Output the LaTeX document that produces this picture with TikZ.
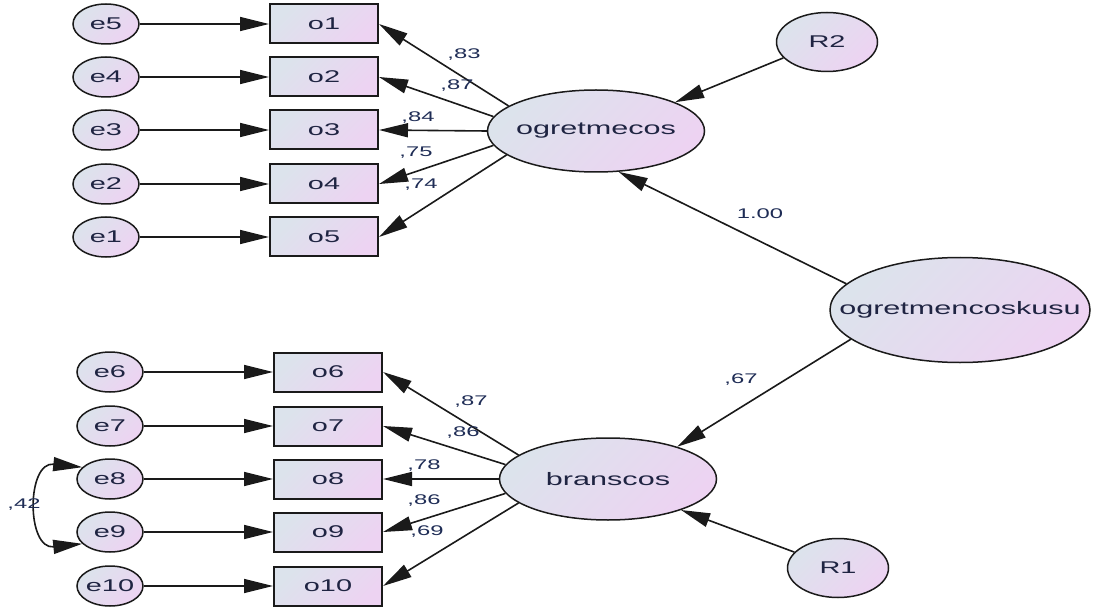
\documentclass[tikz,border=0pt]{standalone}
\usepackage{fontspec}
\setmainfont[FakeStretch=1.7]{Liberation Sans}
\usetikzlibrary{shapes.geometric,arrows.meta}

\definecolor{shadeA}{HTML}{DCE3EC}
\definecolor{shadeB}{HTML}{EDD3F2}
\definecolor{ink}{HTML}{1F2442}
\definecolor{coefink}{HTML}{1E2C55}
\definecolor{edge}{HTML}{1A1A1A}

% text of zero width, so a shape keeps exactly its minimum size
\newcommand{\nlabel}[1]{\makebox[0pt]{#1}}

\tikzset{
  gfill/.style={top color=shadeA, bottom color=shadeB, shading angle=45},
  obsbox/.style={rectangle, draw=edge, line width=2pt, gfill,
    minimum width=108pt, minimum height=39pt, inner sep=0pt,
    font=\fontsize{17}{20}\selectfont, text=ink},
  errc/.style={ellipse, draw=edge, line width=1.5pt, gfill,
    minimum width=66pt, minimum height=40pt, inner sep=0pt,
    font=\fontsize{17}{20}\selectfont, text=ink},
  resid/.style={ellipse, draw=edge, line width=1.5pt, gfill,
    minimum width=101pt, minimum height=59pt, inner sep=0pt,
    font=\fontsize{17}{20}\selectfont, text=ink},
  latent/.style={ellipse, draw=edge, line width=1.5pt, gfill,
    minimum width=217pt, minimum height=82pt, inner sep=0pt,
    font=\fontsize{18}{21}\selectfont, text=ink},
  regpath/.style={draw=edge, line width=1.6pt,
    -{Triangle[length=29pt,width=14pt]}},
  covpath/.style={draw=edge, line width=1.6pt,
    {Triangle[length=29pt,width=14pt]}-{Triangle[length=29pt,width=14pt]}},
  coef/.style={inner sep=0pt, font=\fontsize{14}{16}\selectfont, text=coefink},
}

\begin{document}
\begin{tikzpicture}[x=1pt,y=-1pt]
  \useasboundingbox (0,0) rectangle (1094,612);
  \fill[white] (0,0) rectangle (1094,612);

  % first factor: indicators and their errors
  \foreach \e/\o/\y in {e5/o1/24, e4/o2/77, e3/o3/130, e2/o4/184, e1/o5/237} {
    \node[errc] (\e) at (106,\y) {\nlabel{\e}};
    \node[obsbox] (\o) at (324,\y) {\nlabel{\o}};
    \draw[regpath] (\e) -- (\o);
  }

  % second factor: indicators and their errors
  \foreach \e/\o/\y in {e6/o6/372, e7/o7/426, e8/o8/479, e9/o9/532, e10/o10/586} {
    \node[errc] (\e) at (110,\y) {\nlabel{\e}};
    \node[obsbox] (\o) at (328,\y) {\nlabel{\o}};
    \draw[regpath] (\e) -- (\o);
  }

  % latent variables
  \node[latent] (og) at (596,131) {\nlabel{ogretmecos}};
  \node[latent] (br) at (608,479) {\nlabel{branscos}};
  \node[latent, minimum width=260pt, minimum height=105pt] (oc) at (960,310) {\nlabel{ogretmencoskusu}};
  \node[resid] (R2) at (827,42) {\nlabel{R2}};
  \node[resid] (R1) at (838,568) {\nlabel{R1}};

  % loadings
  \draw[regpath] (og.164) -- (o1.east);
  \draw[regpath] (og.172) -- (o2.east);
  \draw[regpath] (og.180) -- (o3.east);
  \draw[regpath] (og.188) -- (o4.east);
  \draw[regpath] (og.195) -- (o5.east);

  \draw[regpath] (br.165) -- (o6.east);
  \draw[regpath] (br.172) -- (o7.east);
  \draw[regpath] (br.180) -- (o8.east);
  \draw[regpath] (br.188) -- (o9.east);
  \draw[regpath] (br.195) -- (o10.east);

  % structural paths and disturbances
  \draw[regpath] (oc.167.5) -- (og.299);
  \draw[regpath] (oc.195.5) -- (br.25);
  \draw[regpath] (R2.200) -- (og.20.6);
  \draw[regpath] (R1.160) -- (br.337.5);

  % error covariance
  \draw[covpath] (e8.157) .. controls +(-56,-6) and +(-56,6) .. (e9.203);

  % coefficients
  \node[coef] (c1) at (464,55) {,83};
  \node[coef] (c2) at (457,86) {,87};
  \node[coef] (c3) at (418,118) {,84};
  \node[coef] (c4) at (416,153) {,75};
  \node[coef] (c5) at (421,185) {,74};
  \node[coef] (c6) at (471,402) {,87};
  \node[coef] (c7) at (463,433) {,86};
  \node[coef] (c8) at (424,466) {,78};
  \node[coef] (c9) at (424,501) {,86};
  \node[coef] (c10) at (427,532) {,69};
  \node[coef] (c11) at (760,214) {1.00};
  \node[coef] (c12) at (741,380) {,67};
  \node[coef] (c13) at (24,505) {,42};
\end{tikzpicture}
\end{document}
